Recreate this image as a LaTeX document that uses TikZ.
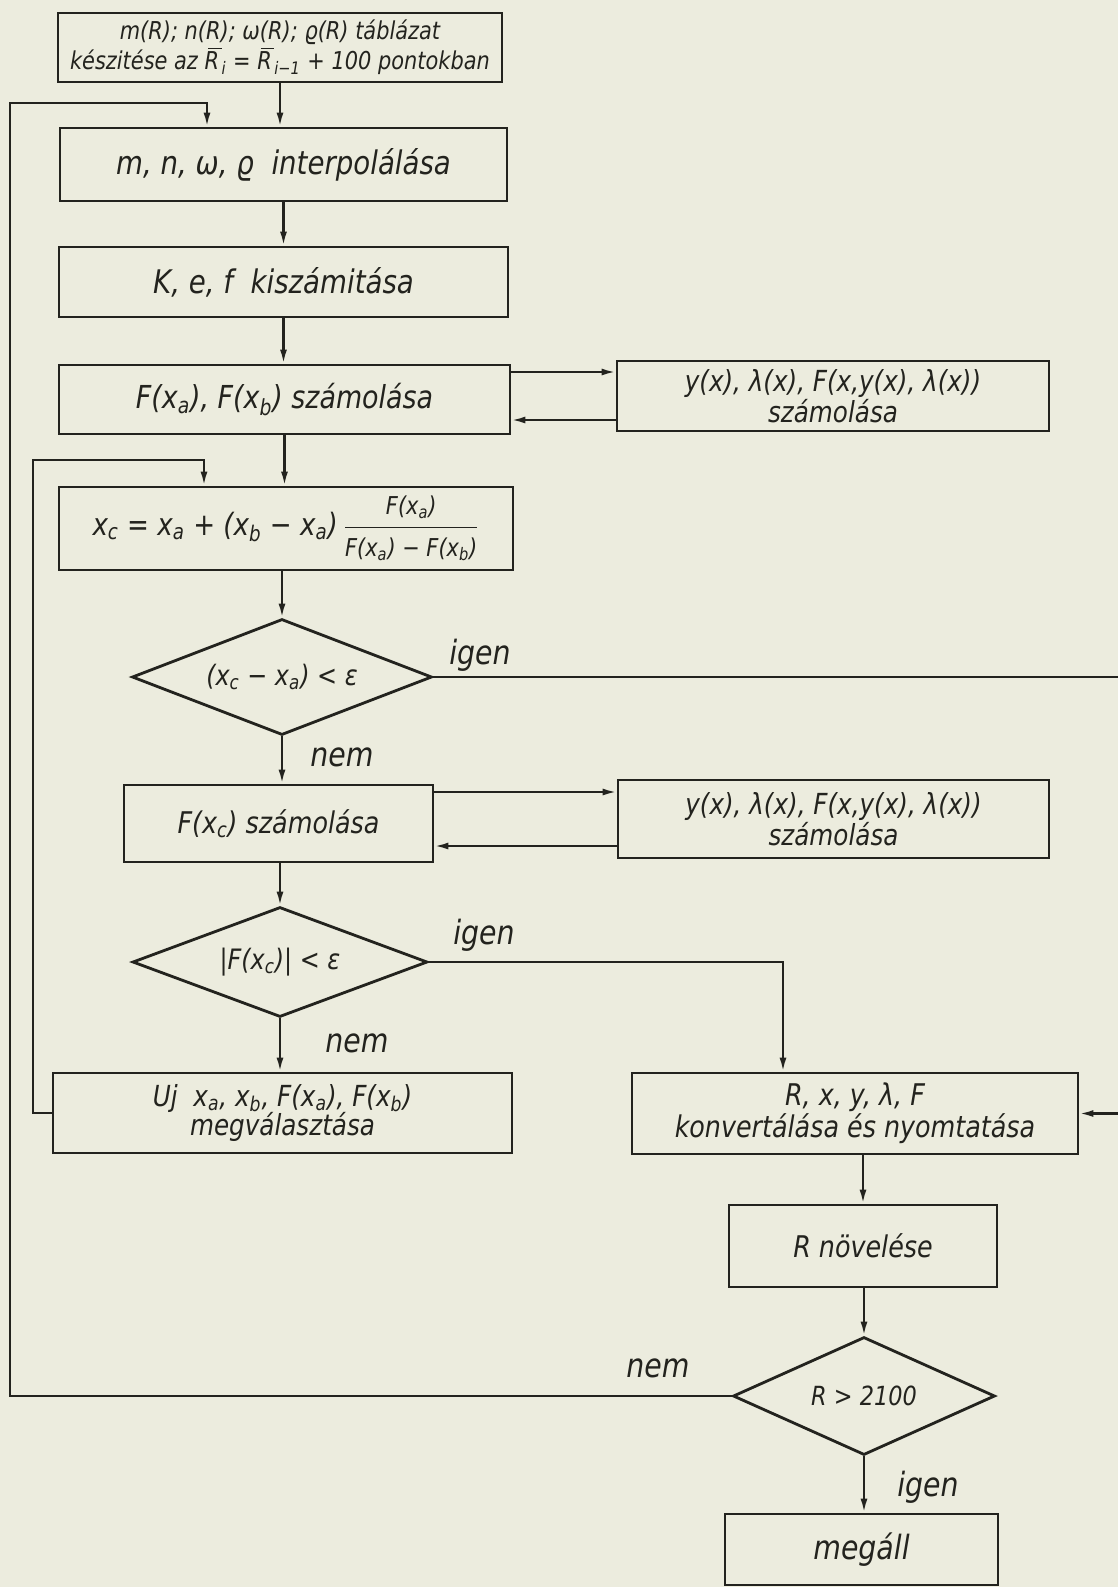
\documentclass[tikz,border=0pt]{standalone}
\usepackage{fontspec}
\newfontfamily\hand{DejaVu Sans}[FakeStretch=0.85]
\newcommand\handfs[2]{\hand\itshape\fontsize{#1}{#2}\selectfont}
\newcommand\Rbar{\leavevmode\vbox{\offinterlineskip\moveright0.14em\hbox{\vrule width 0.55em height 0.7pt depth 0pt}\kern1.4pt\hbox{R}}}
\usetikzlibrary{shapes.geometric,arrows.meta,calc}
\definecolor{paper}{RGB}{236,236,222}
\definecolor{ink}{RGB}{35,35,30}
\begin{document}
\begin{tikzpicture}[x=0.02cm,y=-0.02cm,
  every node/.style={text=ink},
  box/.style={draw=ink,line width=1.6pt,rectangle,inner sep=0pt,align=center},
  dia/.style={draw=ink,line width=1.6pt,diamond,inner sep=0pt,align=center},
  arr/.style={draw=ink,line width=1.3pt,-{Latex[length=8pt,width=4pt]}},
  lbl/.style={font=\handfs{19}{22}}
]
\fill[paper] (0,0) rectangle (1118,1587);
\useasboundingbox (0,0) rectangle (1118,1587);

% nodes
\node[box,minimum width=8.88cm,minimum height=1.38cm,font=\handfs{14}{17}] (b1) at (280,47.5)
  {m(R); n(R); ω(R); ϱ(R) táblázat\\készitése az \Rbar\textsubscript{i} = \Rbar\textsubscript{i−1} + 100 pontokban};
\node[box,minimum width=8.94cm,minimum height=1.46cm,font=\handfs{18.5}{22}] (b2) at (283.5,164.5)
  {m, n, ω, ϱ\ \ interpolálása};
\node[box,minimum width=8.98cm,minimum height=1.40cm,font=\handfs{18.5}{22}] (b3) at (283.5,282)
  {K, e, f\ \ kiszámitása};
\node[box,minimum width=9.02cm,minimum height=1.38cm,font=\handfs{18}{22}] (b4) at (284.5,399.5)
  {F(x\textsubscript{a}), F(x\textsubscript{b}) számolása};
\node[box,minimum width=8.64cm,minimum height=1.40cm,font=\handfs{16.5}{14}] (sA) at (833,396)
  {y(x), λ(x), F(x,y(x), λ(x))\\számolása};
\node[box,minimum width=9.08cm,minimum height=1.66cm,font=\handfs{17.5}{22}] (b5) at (286,528.5)
  {x\textsubscript{c} = x\textsubscript{a} + (x\textsubscript{b} − x\textsubscript{a})\,$\displaystyle\frac{\mbox{\handfs{14}{16}F(x\textsubscript{a})}}{\mbox{\handfs{14}{16}F(x\textsubscript{a}) − F(x\textsubscript{b})}}$};
\node[dia,aspect=2.59,minimum width=6.0cm,minimum height=2.32cm,font=\handfs{16}{18}] (d1) at (282,677)
  {(x\textsubscript{c} − x\textsubscript{a}) < ε};
\node[box,minimum width=6.18cm,minimum height=1.54cm,font=\handfs{17}{20}] (b6) at (278.5,823.5)
  {F(x\textsubscript{c}) számolása};
\node[box,minimum width=8.62cm,minimum height=1.56cm,font=\handfs{16.5}{14}] (sB) at (833.5,819)
  {y(x), λ(x), F(x,y(x), λ(x))\\számolása};
\node[dia,aspect=2.68,minimum width=5.9cm,minimum height=2.2cm,font=\handfs{16}{18}] (d2) at (280,962)
  {|F(x\textsubscript{c})| < ε};
\node[box,minimum width=9.18cm,minimum height=1.6cm,font=\handfs{16.5}{17}] (uj) at (282.5,1113)
  {Uj\ \ x\textsubscript{a}, x\textsubscript{b}, F(x\textsubscript{a}), F(x\textsubscript{b})\\megválasztása};
\node[box,minimum width=8.92cm,minimum height=1.62cm,font=\handfs{17}{18}] (b7) at (855,1113.5)
  {R, x, y, λ, F\\konvertálása és nyomtatása};
\node[box,minimum width=5.36cm,minimum height=1.64cm,font=\handfs{17}{20}] (b8) at (863,1246)
  {R növelése};
\node[dia,aspect=2.22,minimum width=5.24cm,minimum height=2.36cm,font=\handfs{15}{18}] (d3) at (864,1396)
  {R > 2100};
\node[box,minimum width=5.46cm,minimum height=1.42cm,font=\handfs{19}{22}] (b9) at (861.5,1549.5)
  {megáll};

% labels
\node[lbl] (l1) at (480,655) {igen};
\node[lbl] (l2) at (342,757) {nem};
\node[lbl] (l3) at (484,935) {igen};
\node[lbl] (l4) at (357,1043) {nem};
\node[lbl] (l5) at (658,1368) {nem};
\node[lbl] (l6) at (928,1487) {igen};

% helper coordinates
\coordinate (outer) at (10,103);
\coordinate (lx2) at (207,0);
\coordinate (inner) at (33,460);
\coordinate (lx5) at (204,0);
\coordinate (rx) at (1124,0);
\coordinate (lx7) at (783,0);
\coordinate (ya1) at (0,372);
\coordinate (ya2) at (0,420);
\coordinate (yb1) at (0,792);
\coordinate (yb2) at (0,846);

% main flow
\draw[arr] (b1.south) -- (b1.south |- b2.north);
\draw[arr] (b2.south) -- (b2.south |- b3.north);
\draw[arr] (b3.south) -- (b3.south |- b4.north);
\draw[arr] (b4.south) -- (b4.south |- b5.north);
\draw[arr] (b5.south -| d1.north) -- (d1.north);
\draw[arr] (d1.south) -- (d1.south |- b6.north);
\draw[arr] (b6.south -| d2.north) -- (d2.north);
\draw[arr] (d2.south) -- (d2.south |- uj.north);
\draw[arr] (b7.south -| b8.north) -- (b8.north);
\draw[arr] (b8.south -| d3.north) -- (d3.north);
\draw[arr] (d3.south) -- (d3.south |- b9.north);

% side calls
\draw[arr] (b4.east |- ya1) -- (sA.west |- ya1);
\draw[arr] (sA.west |- ya2) -- (b4.east |- ya2);
\draw[arr] (b6.east |- yb1) -- (sB.west |- yb1);
\draw[arr] (sB.west |- yb2) -- (b6.east |- yb2);

% branches and loops
\draw[arr] (d1.east) -- (d1.east -| rx) |- (b7.east);
\draw[arr] (d2.east) -| (b7.north -| lx7);
\draw[arr] (uj.west) -| (inner) -| (b5.north -| lx5);
\draw[arr] (d3.west) -| (outer) -| (b2.north -| lx2);
\end{tikzpicture}
\end{document}
